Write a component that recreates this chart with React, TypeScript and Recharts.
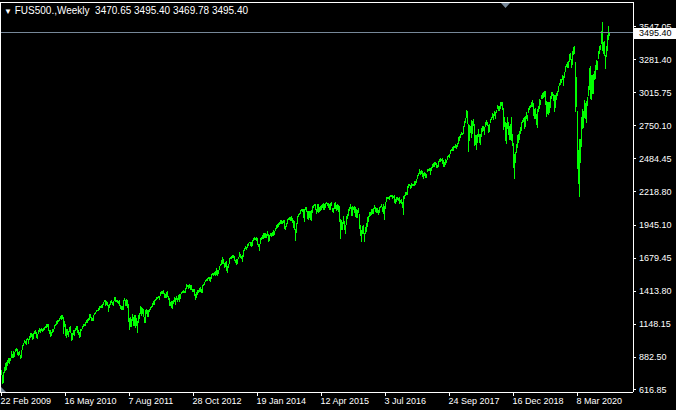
import { ComposedChart, Bar, XAxis, YAxis, ReferenceLine } from "recharts";

// MT4-style weekly bar chart, FUS500 CFD, Feb 2009 .. Oct 2020

const symbol = "FUS500.,Weekly";
const lastOpen = 3470.65;
const lastClose = 3495.4;

const dateLabels = [
  "22 Feb 2009", "16 May 2010", "7 Aug 2011", "28 Oct 2012", "19 Jan 2014",
  "12 Apr 2015", "3 Jul 2016", "24 Sep 2017", "16 Dec 2018", "8 Mar 2020",
];

const priceTicks = [
  616.85, 882.5, 1148.15, 1413.8, 1679.45, 1945.1, 2218.8, 2484.45, 2750.1, 3015.75, 3281.4, 3547.05,
];

// weekly highs / lows, one entry per week (week starting Sunday)
const high2009 = [780, 740, 758, 804, 832, 845, 857, 875, 871, 878, 930, 908, 930, 920, 951, 956, 945, 922, 931, 898, 943, 980, 996, 1018, 1013, 1027, 1039, 1028, 1049, 1074, 1080, 1069, 1073, 1096, 1101, 1084, 1071, 1099, 1113, 1112, 1119, 1109, 1117, 1128, 1133];
const low2009 = [734, 666, 672, 751, 772, 779, 814, 836, 826, 847, 877, 878, 878, 880, 923, 930, 903, 893, 896, 869, 875, 940, 969, 995, 990, 978, 1017, 991, 1016, 1039, 1041, 1020, 1025, 1068, 1071, 1033, 1029, 1069, 1086, 1079, 1091, 1085, 1093, 1103, 1115];

const high2010 = [1145, 1150, 1150, 1104, 1104, 1081, 1112, 1112, 1139, 1150, 1170, 1181, 1181, 1195, 1214, 1218, 1220, 1206, 1174, 1148, 1105, 1105, 1092, 1121, 1131, 1076, 1078, 1100, 1103, 1115, 1130, 1129, 1100, 1081, 1105, 1110, 1131, 1149, 1150, 1167, 1184, 1189, 1196, 1227, 1227, 1207, 1199, 1225, 1241, 1247, 1259, 1263];
const low2010 = [1116, 1127, 1090, 1071, 1044, 1056, 1075, 1086, 1105, 1135, 1142, 1150, 1165, 1176, 1186, 1183, 1186, 1066, 1122, 1056, 1040, 1064, 1042, 1085, 1074, 1011, 1018, 1063, 1056, 1089, 1104, 1076, 1063, 1040, 1047, 1091, 1107, 1121, 1131, 1131, 1160, 1159, 1177, 1181, 1194, 1174, 1177, 1174, 1220, 1232, 1243, 1252];

const high2011 = [1276, 1293, 1296, 1302, 1311, 1330, 1344, 1342, 1333, 1330, 1300, 1314, 1338, 1339, 1329, 1337, 1364, 1370, 1346, 1346, 1334, 1346, 1302, 1292, 1298, 1341, 1356, 1344, 1347, 1345, 1307, 1199, 1208, 1190, 1230, 1204, 1220, 1220, 1195, 1171, 1224, 1239, 1293, 1285, 1277, 1266, 1208, 1260, 1267, 1259, 1265, 1269];
const low2011 = [1257, 1262, 1275, 1275, 1276, 1306, 1327, 1294, 1302, 1291, 1249, 1280, 1306, 1322, 1302, 1295, 1331, 1329, 1329, 1318, 1312, 1298, 1268, 1262, 1262, 1265, 1331, 1295, 1295, 1282, 1168, 1101, 1122, 1121, 1172, 1136, 1136, 1114, 1131, 1075, 1159, 1191, 1232, 1215, 1226, 1209, 1158, 1159, 1231, 1209, 1202, 1248];

const high2012 = [1284, 1296, 1315, 1333, 1345, 1354, 1363, 1368, 1378, 1374, 1407, 1414, 1419, 1422, 1398, 1392, 1406, 1415, 1373, 1358, 1328, 1335, 1334, 1344, 1364, 1362, 1374, 1357, 1380, 1390, 1394, 1406, 1419, 1426, 1414, 1438, 1475, 1467, 1463, 1471, 1461, 1464, 1434, 1434, 1433, 1389, 1409, 1421, 1424, 1438, 1448, 1430, 1466];
const low2012 = [1259, 1274, 1290, 1306, 1300, 1335, 1340, 1352, 1355, 1341, 1371, 1392, 1391, 1392, 1357, 1358, 1358, 1367, 1343, 1291, 1295, 1277, 1266, 1307, 1323, 1306, 1345, 1325, 1345, 1329, 1354, 1391, 1397, 1398, 1397, 1396, 1428, 1449, 1433, 1440, 1425, 1427, 1403, 1408, 1373, 1343, 1362, 1385, 1398, 1411, 1407, 1398, 1398];

const high2013 = [1472, 1485, 1503, 1514, 1518, 1524, 1530, 1525, 1552, 1564, 1563, 1570, 1574, 1597, 1588, 1585, 1618, 1634, 1667, 1687, 1674, 1644, 1648, 1654, 1620, 1632, 1680, 1693, 1698, 1709, 1709, 1694, 1669, 1670, 1672, 1689, 1730, 1711, 1696, 1704, 1745, 1759, 1775, 1771, 1798, 1805, 1813, 1810, 1811, 1823, 1843, 1850];
const low2013 = [1456, 1462, 1485, 1494, 1495, 1509, 1498, 1485, 1515, 1547, 1538, 1546, 1539, 1548, 1536, 1553, 1581, 1614, 1627, 1636, 1630, 1599, 1608, 1577, 1560, 1604, 1632, 1672, 1676, 1684, 1684, 1654, 1640, 1627, 1633, 1671, 1693, 1685, 1670, 1646, 1692, 1740, 1752, 1747, 1761, 1780, 1800, 1779, 1772, 1775, 1818, 1827];

const high2014 = [1843, 1850, 1846, 1798, 1798, 1841, 1847, 1867, 1883, 1882, 1884, 1875, 1897, 1873, 1865, 1884, 1885, 1889, 1903, 1901, 1924, 1950, 1956, 1963, 1968, 1985, 1985, 1983, 1991, 1984, 1942, 1964, 1993, 2006, 2011, 2008, 2019, 2005, 1985, 1977, 1912, 1965, 2018, 2034, 2041, 2071, 2075, 2079, 2075, 2077, 2093, 2094];
const low2014 = [1824, 1815, 1790, 1770, 1738, 1791, 1824, 1834, 1834, 1839, 1841, 1840, 1858, 1814, 1815, 1859, 1850, 1859, 1862, 1868, 1901, 1915, 1925, 1930, 1944, 1958, 1952, 1955, 1965, 1916, 1904, 1928, 1956, 1988, 1990, 1983, 1979, 1964, 1926, 1905, 1821, 1886, 1957, 2009, 2030, 2035, 2064, 2049, 2002, 1972, 2069, 2055];

const high2015 = [2064, 2057, 2064, 2057, 2072, 2097, 2110, 2119, 2117, 2080, 2114, 2114, 2089, 2102, 2111, 2120, 2126, 2117, 2123, 2135, 2127, 2121, 2115, 2126, 2130, 2083, 2085, 2127, 2132, 2111, 2113, 2105, 2103, 1993, 1987, 1975, 2021, 1979, 1951, 2021, 2034, 2075, 2094, 2116, 2093, 2097, 2095, 2104, 2090, 2076, 2067, 2082];
const low2015 = [1992, 1988, 2005, 1991, 1981, 2041, 2085, 2103, 2066, 2039, 2050, 2045, 2056, 2062, 2072, 2081, 2067, 2067, 2085, 2120, 2099, 2085, 2072, 2070, 2097, 2056, 2044, 2078, 2079, 2064, 2067, 2052, 1970, 1831, 1903, 1903, 1953, 1908, 1872, 1951, 1993, 2019, 2064, 2080, 2022, 2019, 2070, 2042, 2012, 2005, 2006, 2043];

const high2016 = [2038, 1950, 1907, 1940, 1947, 1881, 1930, 1963, 2009, 2022, 2052, 2056, 2075, 2074, 2084, 2111, 2096, 2083, 2084, 2067, 2095, 2103, 2120, 2092, 2113, 2104, 2131, 2169, 2176, 2177, 2183, 2188, 2187, 2193, 2184, 2187, 2159, 2176, 2175, 2164, 2169, 2147, 2154, 2133, 2182, 2189, 2214, 2214, 2259, 2278, 2274, 2273];
const low2016 = [1918, 1858, 1812, 1872, 1872, 1810, 1871, 1891, 1931, 1969, 2015, 2023, 2030, 2039, 2039, 2078, 2054, 2040, 2044, 2025, 2047, 2085, 2089, 2050, 2032, 1991, 2074, 2129, 2154, 2156, 2147, 2175, 2172, 2160, 2167, 2127, 2119, 2133, 2145, 2144, 2114, 2124, 2120, 2084, 2028, 2156, 2183, 2188, 2187, 2248, 2258, 2234];

const high2017 = [2282, 2279, 2276, 2300, 2299, 2319, 2352, 2368, 2401, 2386, 2390, 2382, 2370, 2378, 2366, 2361, 2398, 2399, 2403, 2406, 2418, 2440, 2446, 2454, 2453, 2451, 2434, 2463, 2478, 2484, 2480, 2490, 2474, 2456, 2477, 2475, 2500, 2508, 2520, 2552, 2557, 2575, 2582, 2588, 2598, 2590, 2605, 2658, 2665, 2680, 2695, 2692];
const low2017 = [2245, 2258, 2258, 2263, 2267, 2288, 2321, 2344, 2361, 2354, 2362, 2333, 2322, 2344, 2328, 2329, 2375, 2380, 2381, 2352, 2380, 2403, 2415, 2418, 2430, 2405, 2407, 2415, 2453, 2459, 2466, 2437, 2417, 2417, 2428, 2446, 2474, 2496, 2489, 2521, 2542, 2547, 2544, 2566, 2566, 2557, 2576, 2600, 2624, 2650, 2676, 2673];

const high2018 = [2743, 2787, 2810, 2873, 2870, 2763, 2755, 2747, 2790, 2787, 2802, 2762, 2675, 2672, 2680, 2718, 2683, 2682, 2732, 2742, 2742, 2736, 2779, 2791, 2774, 2752, 2763, 2804, 2816, 2848, 2841, 2863, 2855, 2876, 2916, 2903, 2909, 2941, 2940, 2939, 2894, 2816, 2779, 2767, 2815, 2781, 2747, 2760, 2815, 2685, 2608, 2520];
const low2018 = [2682, 2737, 2768, 2808, 2759, 2533, 2622, 2692, 2647, 2681, 2742, 2585, 2594, 2553, 2611, 2660, 2612, 2594, 2655, 2701, 2707, 2676, 2736, 2755, 2742, 2691, 2698, 2770, 2790, 2808, 2795, 2825, 2802, 2853, 2885, 2864, 2864, 2886, 2904, 2874, 2710, 2738, 2628, 2603, 2718, 2671, 2631, 2631, 2621, 2583, 2409, 2317];

const high2019 = [2538, 2597, 2675, 2681, 2708, 2738, 2776, 2795, 2814, 2817, 2830, 2861, 2836, 2893, 2910, 2915, 2940, 2954, 2931, 2885, 2892, 2841, 2885, 2910, 2964, 2955, 2996, 3014, 3018, 3028, 3029, 2945, 2943, 2940, 2941, 2985, 3021, 3022, 3002, 2993, 2993, 3008, 3027, 3066, 3094, 3121, 3127, 3154, 3150, 3183, 3226, 3248, 3258];
const low2019 = [2444, 2524, 2571, 2612, 2631, 2681, 2703, 2766, 2775, 2722, 2740, 2800, 2785, 2848, 2873, 2893, 2897, 2900, 2825, 2801, 2805, 2750, 2728, 2855, 2883, 2912, 2964, 2966, 2975, 2976, 2914, 2822, 2840, 2834, 2853, 2891, 2964, 2985, 2945, 2856, 2892, 2952, 2990, 3023, 3067, 3078, 3091, 3117, 3070, 3129, 3183, 3223, 3212];

const high2020 = [3268, 3330, 3337, 3285, 3347, 3385, 3393, 3259, 3137, 2863, 2553, 2637, 2641, 2819, 2880, 2868, 2954, 2932, 2945, 2980, 3068, 3212, 3233, 3155, 3155, 3165, 3186, 3238, 3280, 3272, 3352, 3387, 3399, 3509, 3588, 3425, 3428, 3320, 3393, 3482, 3550, 3495.4];
const low2020 = [3214, 3264, 3281, 3214, 3236, 3315, 3328, 2855, 2901, 2400, 2281, 2175, 2447, 2575, 2725, 2727, 2814, 2798, 2766, 2905, 2988, 3039, 2965, 2958, 3005, 3000, 3115, 3127, 3201, 3200, 3284, 3329, 3361, 3407, 3349, 3330, 3313, 3209, 3303, 3354, 3440, 3469.78];

const highs = [...high2009, ...high2010, ...high2011, ...high2012, ...high2013, ...high2014, ...high2015, ...high2016, ...high2017, ...high2018, ...high2019, ...high2020];
const lows = [...low2009, ...low2010, ...low2011, ...low2012, ...low2013, ...low2014, ...low2015, ...low2016, ...low2017, ...low2018, ...low2019, ...low2020];

// one pixel per week, with empty slots after the last bar (chart shift)
const SLOTS = 632;
const chartData = Array.from({ length: SLOTS }, (_, i) => ({
  i,
  range: i < highs.length ? [lows[i], highs[i]] : null,
}));

const FONT = '"Liberation Sans", Arial, sans-serif';

function DateTick({ x, y, payload }: any) {
  const label = dateLabels[Math.round(payload.value / 64)];
  if (!label) return null;
  return (
    <text x={x - 1} y={y} dy="0.71em" fill="#ffffff" fontSize={9} fontFamily={FONT} textAnchor="start">
      {label}
    </text>
  );
}

function PriceTick({ x, y, payload }: any) {
  return (
    <text x={x} y={y} dy="0.355em" fill="#ffffff" fontSize={9} fontFamily={FONT} textAnchor="start">
      {Number(payload.value).toFixed(2)}
    </text>
  );
}

function PriceTag({ viewBox }: any) {
  const left = viewBox.x + viewBox.width + 1;
  return (
    <g>
      <rect x={left} y={viewBox.y - 5} width={42} height={11} fill="#ffffff" />
      <text x={left + 5} y={viewBox.y} dy="0.355em" fill="#000000" fontSize={9} fontFamily={FONT}>
        {lastClose.toFixed(2)}
      </text>
    </g>
  );
}

export default function App() {
  return (
    <div style={{ position: "fixed", left: 0, top: 0, width: 676, height: 410, background: "#000000", overflow: "hidden" }}>
      <ComposedChart
        width={676}
        height={410}
        data={chartData}
        margin={{ top: 2, right: 0, bottom: 0, left: 1 }}
        barCategoryGap={0}
        barGap={0}
        style={{ shapeRendering: "crispEdges" }}
      >
        <XAxis
          dataKey="i"
          type="category"
          interval={63}
          height={18}
          axisLine={{ stroke: "#ffffff" }}
          tickLine={{ stroke: "#ffffff" }}
          tickSize={4}
          tickMargin={2}
          tick={<DateTick />}
        />
        <YAxis
          orientation="right"
          type="number"
          domain={[600.7, 3745.3]}
          allowDataOverflow
          ticks={priceTicks}
          width={43}
          axisLine={{ stroke: "#ffffff" }}
          tickLine={{ stroke: "#ffffff" }}
          tickSize={3}
          tickMargin={3}
          tick={<PriceTick />}
        />
        <Bar dataKey="range" fill="#00ff00" barSize={1} isAnimationActive={false} />
        <ReferenceLine y={lastClose} stroke="#778899" label={<PriceTag />} />
      </ComposedChart>
      <div
        style={{
          position: "absolute", left: 0, top: 2, width: 634, height: 391,
          borderLeft: "1px solid #ffffff", borderTop: "1px solid #ffffff",
          boxSizing: "border-box", pointerEvents: "none",
        }}
      />
      <svg width={676} height={410} style={{ position: "absolute", left: 0, top: 0, pointerEvents: "none" }}>
        <polygon points="501,3 510,3 505.5,8" fill="#778899" />
        <polygon points="1,387 1,392 6,392" fill="#778899" />
      </svg>
      <div
        style={{
          position: "absolute", left: 4, top: 5, color: "#ffffff", fontFamily: FONT,
          fontSize: 10, lineHeight: "12px", whiteSpace: "pre",
        }}
      >
        <span style={{ fontSize: 8 }}>{"\u25BC"}</span>
        {` ${symbol}  ${lastOpen.toFixed(2)} ${highs[highs.length - 1].toFixed(2)} ${lows[lows.length - 1].toFixed(2)} ${lastClose.toFixed(2)}`}
      </div>
    </div>
  );
}
